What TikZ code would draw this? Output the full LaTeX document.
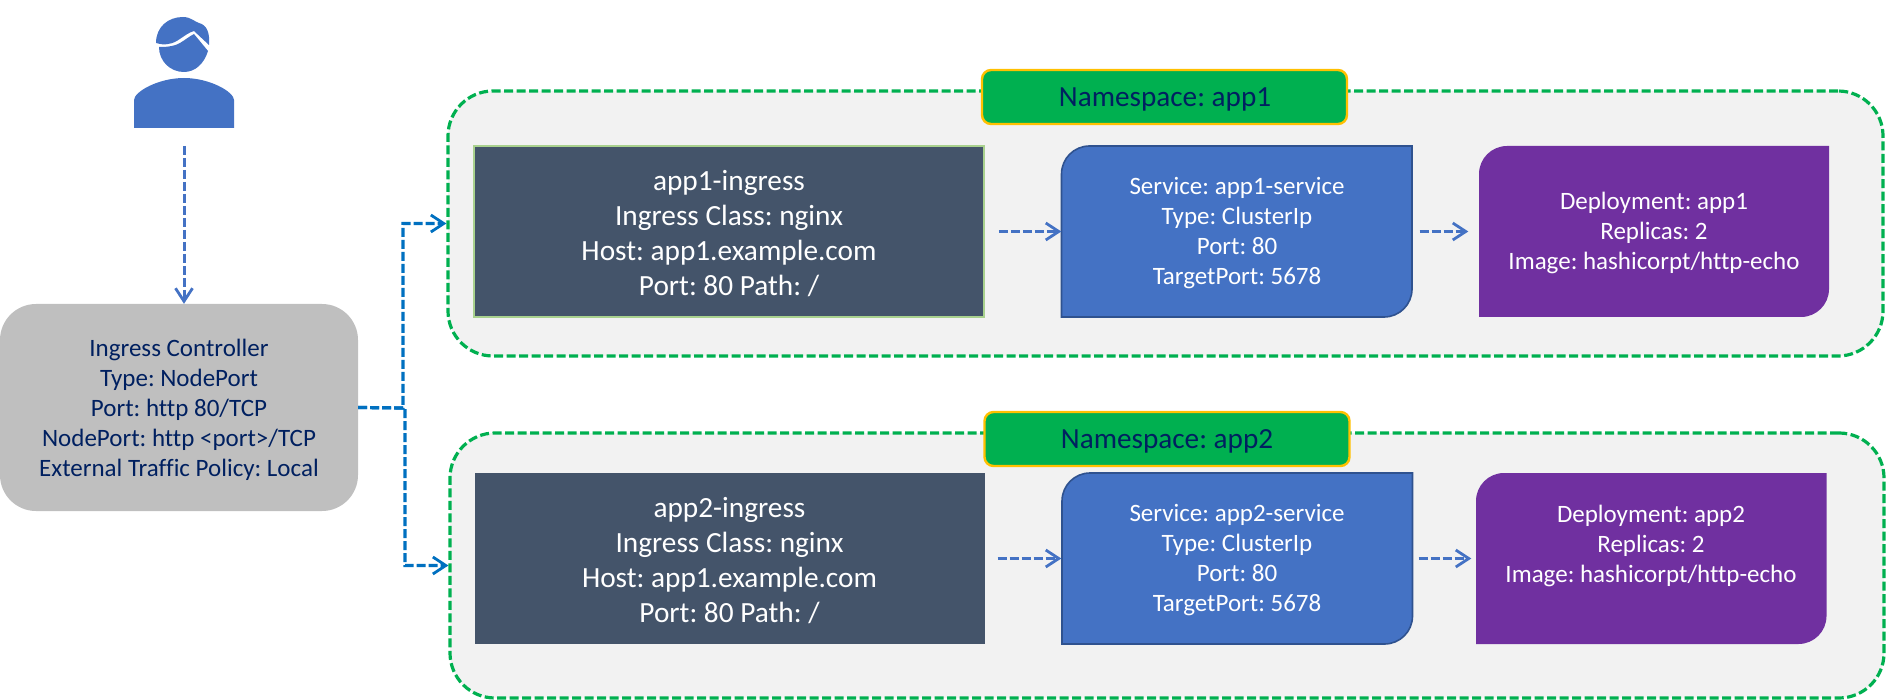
\documentclass[tikz,border=0pt]{standalone}
\usepackage{fontspec}
\usepackage{xcolor}
\usepackage{tikz}
\usetikzlibrary{arrows.meta}
\setmainfont[Ligatures=NoCommon]{Carlito}
\frenchspacing
\definecolor{personblue}{HTML}{4472C4}
\definecolor{linkblue}{HTML}{0070C0}
\definecolor{navytext}{HTML}{002060}
\definecolor{nsgreen}{HTML}{00B050}
\definecolor{nsgold}{HTML}{FFC000}
\definecolor{slatefill}{HTML}{44546A}
\definecolor{leafline}{HTML}{A9D18E}
\definecolor{borderblue}{HTML}{2F528F}
\definecolor{deploypurple}{HTML}{7030A0}
\tikzset{
  flow/.style={personblue, line width=3pt, dash pattern=on 9pt off 3pt, -{Straight Barb[length=13pt,width=17pt,line width=2.8pt]}},
  busflow/.style={flow, linkblue, line width=3.2pt},
  nsbox/.style={draw=nsgreen, fill=black!5, line width=3.2pt, dash pattern=on 9pt off 3.5pt, rounded corners=45pt, minimum width=#1, minimum height=265pt, inner sep=0pt},
  nslabel/.style={draw=nsgold, fill=nsgreen, line width=2.4pt, rounded corners=9pt, minimum width=365pt, minimum height=54pt},
  nstext/.style={text=navytext, font=\fontsize{29.2}{29}\selectfont},
  controllerbox/.style={fill=black!25, rounded corners=36pt, minimum width=358pt, minimum height=207pt},
  controllertext/.style={align=center, text=navytext, font=\fontsize{25}{30}\selectfont},
  ingressbox/.style={fill=slatefill, minimum width=510pt, minimum height=171pt, inner sep=0pt},
  ingresstext/.style={align=center, text=white, font=\fontsize{29.3}{35}\selectfont},
  cardtext/.style={align=center, text=white, font=\fontsize{25}{30}\selectfont, minimum width=351pt, inner sep=0pt},
}
\begin{document}
\begin{tikzpicture}[x=1pt,y=-1pt]
\useasboundingbox (0,0) rectangle (1886,700);
% person
\fill[personblue] (156,43) .. controls (156,27) and (168,17) .. (183,17) .. controls (191,17) and (195,22) .. (199,23) .. controls (207,25) and (210,33) .. (209,45) -- (194,31) .. controls (184,34) and (178,43) .. (168,44) .. controls (164,45) and (160,44) .. (156,43) -- cycle;
\fill[personblue] (159,47) .. controls (164,47) and (173,47) .. (180,43) .. controls (185,40) and (190,36) .. (194,34) -- (208,51) .. controls (204,64) and (195,72) .. (184,72) .. controls (170,72) and (159,61) .. (159,47) -- cycle;
\fill[personblue] (134,128) -- (134,100) .. controls (134,92) and (158,78) .. (184,78) .. controls (210,78) and (234,92) .. (234,100) -- (234,128) -- cycle;
\coordinate (userfoot) at (184,146);
% controller
\node[controllerbox] (controller) at (179,407.5) {};
\node[controllertext] (controllerinfo) at (179,409.5) {Ingress Controller\\Type: NodePort\\Port: http 80/TCP\\NodePort: http <port>/TCP\\External Traffic Policy: Local};
\draw[flow] (userfoot) -- (controller.north -| userfoot);
% namespace app1
\node[nsbox=1435pt] (nsone) at (1165.5,223.5) {};
\node[nslabel] (nsonelabel) at (1164.5,97) {};
\node[nstext] (nsonename) at (1165,99) {Namespace: app1};
\node[ingressbox, draw=leafline, line width=1.6pt] (ingressone) at (729,231.5) {};
\node[ingresstext] (ingressoneinfo) at (729,233.5) {app1-ingress\\Ingress Class: nginx\\Host: app1.example.com\\Port: 80 Path: /};
\path[fill=personblue, draw=borderblue, line width=1.6pt] (1089.5,146) -- (1412,146) -- (1412,289) arc (0:90:28) -- (1061.5,317) -- (1061.5,174) arc (180:270:28) -- cycle;
\node[cardtext] (serviceone) at (1237,233) {Service: app1-service\\Type: ClusterIp\\Port: 80\\TargetPort: 5678};
\path[fill=deploypurple] (1507,146) -- (1829,146) -- (1829,289) arc (0:90:28) -- (1479,317) -- (1479,174) arc (180:270:28) -- cycle;
\node[cardtext] (deployone) at (1654,233) {Deployment: app1\\Replicas: 2\\Image: hashicorpt/http-echo};
\draw[flow] ([xshift=14pt]ingressone.east) -- (ingressone.east -| serviceone.west);
\draw[flow] ([xshift=7pt]ingressone.east -| serviceone.east) -- ([xshift=-10pt]ingressone.east -| deployone.west);
% namespace app2
\node[nsbox=1434pt] (nstwo) at (1167,565.5) {};
\node[nslabel] (nstwolabel) at (1167,439) {};
\node[nstext] (nstwoname) at (1167,441) {Namespace: app2};
\node[ingressbox] (ingresstwo) at (729.5,558.5) {};
\node[ingresstext] (ingresstwoinfo) at (729.5,560.5) {app2-ingress\\Ingress Class: nginx\\Host: app1.example.com\\Port: 80 Path: /};
\path[fill=personblue, draw=borderblue, line width=1.6pt] (1090,473) -- (1412.5,473) -- (1412.5,616) arc (0:90:28) -- (1062,644) -- (1062,501) arc (180:270:28) -- cycle;
\node[cardtext] (servicetwo) at (1237,560) {Service: app2-service\\Type: ClusterIp\\Port: 80\\TargetPort: 5678};
\path[fill=deploypurple] (1504,473) -- (1826.5,473) -- (1826.5,616) arc (0:90:28) -- (1476,644) -- (1476,501) arc (180:270:28) -- cycle;
\node[cardtext] (deploytwo) at (1651,546) {Deployment: app2\\Replicas: 2\\Image: hashicorpt/http-echo};
\draw[flow] ([xshift=13pt]ingresstwo.east) -- (ingresstwo.east -| servicetwo.west);
\draw[flow] ([xshift=6pt]ingresstwo.east -| servicetwo.east) -- ([xshift=-4pt]ingresstwo.east -| deploytwo.west);
% links from the controller
\coordinate (joinup) at (403,408);
\coordinate (joindown) at (405,408);
\draw[busflow] (controller.east) -- (joinup) |- (nsone.west);
\draw[busflow] (controller.east) -- (joindown) |- (nstwo.west);
\end{tikzpicture}
\end{document}
